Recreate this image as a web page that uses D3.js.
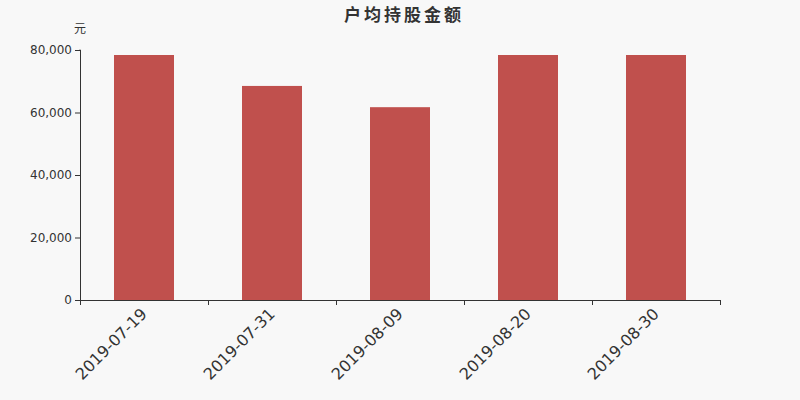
<!DOCTYPE html>
<html><head><meta charset="utf-8">
<script src="https://cdn.jsdelivr.net/npm/d3@7"></script>
<style>body{margin:0;background:#f8f8f8}svg{display:block}</style>
</head><body><svg id="c" width="800" height="400"></svg>
<script>
const categories = ["2019-07-19","2019-07-31","2019-08-09","2019-08-20","2019-08-30"];
const values = [78400, 68500, 61700, 78400, 78400];
const yTicks = [0, 20000, 40000, 60000, 80000];
const title = "户均持股金额";
const unit = "元";

const svg = d3.select("#c");
svg.append("rect").attr("width",800).attr("height",400).attr("fill","#f8f8f8");
const m = {l:80, r:80, t:50, b:100};
const x = d3.scaleBand().domain(categories).range([m.l, 800-m.r]);
const y = d3.scaleLinear().domain([0,80000]).range([400-m.b, m.t]);
const font = "'DejaVu Sans', sans-serif";

svg.append("text").attr("x",404).attr("y",21).attr("text-anchor","middle")
  .attr("font-family","'Noto Sans CJK SC', sans-serif").attr("font-weight","bold")
  .attr("font-size",17).attr("letter-spacing","3px").attr("fill","#333").text(title);
svg.append("text").attr("x",80).attr("y",33).attr("text-anchor","middle")
  .attr("font-family","'Noto Sans CJK SC', sans-serif").attr("font-size",12)
  .attr("fill","#333").text(unit);

svg.append("g").selectAll("rect").data(categories).join("rect")
  .attr("x", d => x(d) + (x.bandwidth()-60)/2)
  .attr("width", 60)
  .attr("y", (d,i) => y(values[i]))
  .attr("height", (d,i) => y(0) - y(values[i]))
  .attr("fill", "#c0504d");

const ya = svg.append("g").attr("transform",`translate(${m.l},0)`)
  .call(d3.axisLeft(y).tickValues(yTicks).tickSize(5).tickPadding(3).tickFormat(d3.format(",")));
ya.select(".domain").attr("stroke","#333").attr("d",`M-0.5,${y(80000)}H0.5V${y(0)}`);
ya.selectAll(".tick line").attr("stroke","#333");
ya.selectAll("text").attr("font-family",font).attr("font-size",12).attr("fill","#333");

const xa = svg.append("g").attr("transform",`translate(0,${y(0)})`)
  .call(d3.axisBottom(x).tickSize(0).tickPadding(0));
xa.select(".domain").attr("stroke","#333").attr("d",`M${m.l},0.5H${800-m.r}`);
xa.selectAll(".tick").remove();
const edges = d3.range(categories.length+1).map(i => m.l + i*x.step());
xa.selectAll("line.tk").data(edges).join("line").attr("class","tk")
  .attr("x1",d=>d+0.5).attr("x2",d=>d+0.5).attr("y1",0).attr("y2",5).attr("stroke","#333");
xa.selectAll("text.lb").data(categories).join("text").attr("class","lb")
  .attr("transform", d => `translate(${x(d)+x.bandwidth()/2},11) rotate(-45)`)
  .attr("text-anchor","end").attr("dy","0.35em")
  .attr("font-family",font).attr("font-size",16).attr("fill","#333").text(d=>d);
</script></body></html>
